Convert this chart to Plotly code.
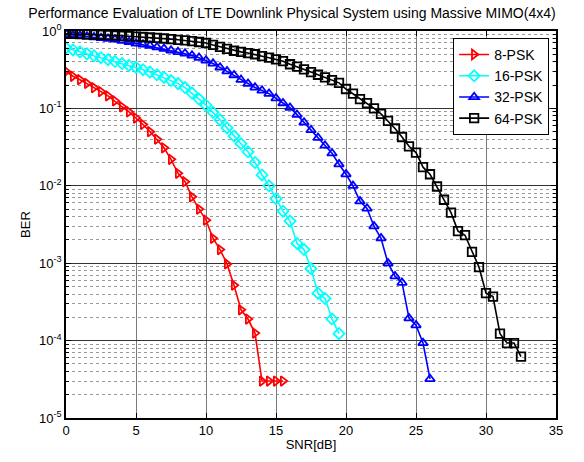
import plotly.graph_objects as go

# SNR grid (dB), 0.5 dB steps
SNR = [0, 0.5, 1, 1.5, 2, 2.5, 3, 3.5, 4, 4.5, 5, 5.5, 6, 6.5, 7, 7.5, 8, 8.5, 9, 9.5,
       10, 10.5, 11, 11.5, 12, 12.5, 13, 13.5, 14, 14.5, 15, 15.5, 16, 16.5, 17, 17.5,
       18, 18.5, 19, 19.5, 20, 20.5, 21, 21.5, 22, 22.5, 23, 23.5, 24, 24.5, 25, 25.5,
       26, 26.5, 27, 27.5, 28, 28.5, 29, 29.5, 30, 30.5, 31, 31.5, 32, 32.5]

ber_8psk = [0.30, 0.26, 0.235, 0.21, 0.185, 0.165, 0.145, 0.125, 0.105, 0.09, 0.075,
            0.062, 0.05, 0.04, 0.031, 0.022, 0.0145, 0.0113, 0.0072, 0.005, 0.0036,
            0.0021, 0.0015, 0.00098, 0.00052, 0.00025, 0.00019, 0.000125,
            3e-5, 3e-5, 3e-5, 3e-5]

ber_16psk = [0.603, 0.569, 0.537, 0.507, 0.479, 0.452, 0.427, 0.403, 0.38, 0.359,
             0.339, 0.316, 0.295, 0.272, 0.251, 0.229, 0.209, 0.186, 0.158, 0.132,
             0.11, 0.089, 0.071, 0.056, 0.044, 0.035, 0.0275, 0.02, 0.0138, 0.01,
             0.0068, 0.0047, 0.0035, 0.0018, 0.0015, 0.00085, 0.00041, 0.00035,
             0.00019, 0.000123]

ber_32psk = [0.912, 0.891, 0.871, 0.851, 0.832, 0.813, 0.794, 0.776, 0.75, 0.724,
             0.692, 0.668, 0.646, 0.617, 0.589, 0.562, 0.537, 0.513, 0.484, 0.452,
             0.417, 0.38, 0.339, 0.302, 0.269, 0.234, 0.209, 0.186, 0.17, 0.155,
             0.135, 0.117, 0.102, 0.083, 0.066, 0.0525, 0.0417, 0.0331, 0.0263, 0.019,
             0.0141, 0.01, 0.0063, 0.0051, 0.003, 0.0021, 0.001, 0.00068, 0.00056,
             0.000195, 0.000158, 0.000093, 0.000032]

ber_64psk = [0.923, 0.918, 0.912, 0.906, 0.9, 0.891, 0.883, 0.875, 0.867, 0.857,
             0.847, 0.836, 0.824, 0.813, 0.8, 0.785, 0.77, 0.755, 0.738, 0.721,
             0.7, 0.66, 0.624, 0.589, 0.556, 0.537, 0.519, 0.501, 0.473, 0.452,
             0.431, 0.407, 0.372, 0.347, 0.32, 0.295, 0.272, 0.251, 0.232, 0.214,
             0.178, 0.155, 0.132, 0.117, 0.1, 0.085, 0.069, 0.055, 0.0427, 0.0324,
             0.0269, 0.0174, 0.0141, 0.0098, 0.0066, 0.0045, 0.0026, 0.0023, 0.0014,
             0.00089, 0.00041, 0.00037, 0.000123, 0.000093, 0.000093, 0.000062]

names = ["8-PSK", "16-PSK", "32-PSK", "64-PSK"]
series = [ber_8psk, ber_16psk, ber_32psk, ber_64psk]
colors = ["#ff0000", "#00ffff", "#0000ff", "#000000"]
symbols = ["triangle-right-open", "diamond-open", "triangle-up-open", "square-open"]

x_ticks = [0, 5, 10, 15, 20, 25, 30, 35]
y_ticks = [1e-5, 1e-4, 1e-3, 1e-2, 1e-1, 1e0]
y_ticktext = ["10<sup>-5</sup>", "10<sup>-4</sup>", "10<sup>-3</sup>",
              "10<sup>-2</sup>", "10<sup>-1</sup>", "10<sup>0</sup>"]
y_minor = [m * d for d in [1e-5, 1e-4, 1e-3, 1e-2, 1e-1] for m in range(2, 10)]

FONT = "Liberation Sans, Arial, sans-serif"

fig = go.Figure()
for name, ber, c, s in zip(names, series, colors, symbols):
    fig.add_trace(go.Scatter(
        x=SNR[:len(ber)], y=ber, name=name, mode="lines+markers",
        line=dict(color=c, width=1.6),
        marker=dict(symbol=s, size=8.5, color=c, line=dict(color=c, width=1.8)),
    ))

fig.update_layout(
    width=584, height=462,
    margin=dict(l=66, r=28, t=31, b=44),
    paper_bgcolor="white", plot_bgcolor="white",
    font=dict(family=FONT, size=13, color="black"),
    title=dict(text="Performance Evaluation of LTE Downlink Physical System using Massive MIMO(4x4)",
               x=0.5, xanchor="center", y=0.972, yanchor="middle",
               font=dict(family=FONT, size=14, color="black")),
    showlegend=True,
    legend=dict(x=0.986, y=0.982, xanchor="right", yanchor="top",
                bgcolor="white", bordercolor="black", borderwidth=1,
                font=dict(family=FONT, size=14, color="black"),
                tracegroupgap=0, itemwidth=30),
)

fig.update_xaxes(
    range=[0, 35], tickvals=x_ticks, ticktext=[str(v) for v in x_ticks],
    showline=True, linecolor="black", linewidth=1.5, mirror="allticks",
    ticks="inside", ticklen=5, tickcolor="black",
    showgrid=True, gridcolor="#7a7a7a", gridwidth=1,
    zeroline=False,
    title=dict(text="SNR[dB]", standoff=3, font=dict(family=FONT, size=13)),
    tickfont=dict(family=FONT, size=13),
)

fig.update_yaxes(
    type="log", range=[-5, 0], tickvals=y_ticks, ticktext=y_ticktext,
    showline=True, linecolor="black", linewidth=1.5, mirror="allticks",
    ticks="inside", ticklen=5, tickcolor="black",
    showgrid=True, gridcolor="#333333", gridwidth=1,
    zeroline=False,
    minor=dict(tickvals=y_minor, ticks="inside", ticklen=3, tickcolor="black",
               showgrid=True, gridcolor="#9a9a9a", griddash="dot", gridwidth=1),
    title=dict(text="BER", standoff=6, font=dict(family=FONT, size=13)),
    tickfont=dict(family=FONT, size=13),
)

fig.write_html("out.html")
